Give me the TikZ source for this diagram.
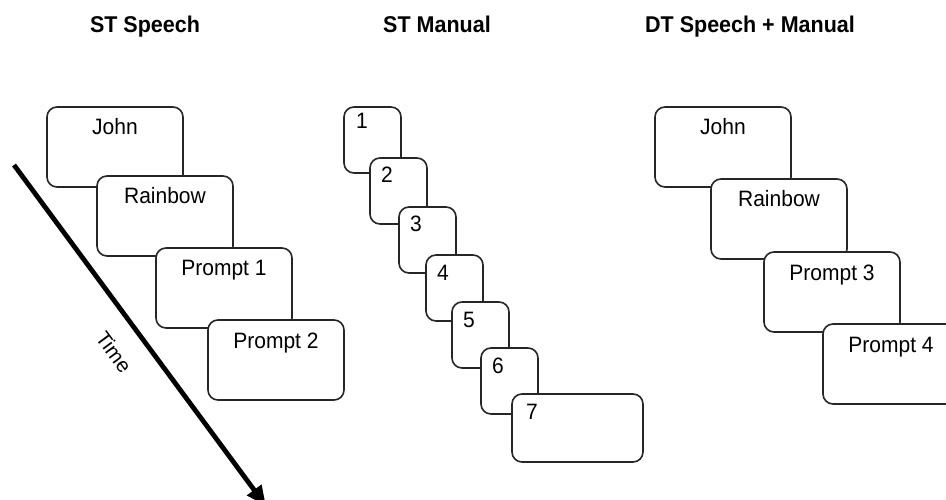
\documentclass[tikz,border=0pt]{standalone}
\usepackage{fontspec}
\setmainfont{Liberation Sans}
\usetikzlibrary{arrows.meta}
\tikzset{
  card/.style={draw=black!85, line width=1.6pt, fill=white, rounded corners=10pt,
    inner sep=0pt, outer sep=0pt, anchor=north west},
  bigcard/.style={card, minimum width=136pt, minimum height=80pt},
  smallcard/.style={card, minimum width=57pt, minimum height=66pt},
  cardtext/.style={font=\fontsize{21}{25}\selectfont, inner sep=0pt, anchor=base, yscale=1.06},
  numtext/.style={font=\fontsize{21}{25}\selectfont, inner sep=0pt, anchor=base west, yscale=1.06},
  title/.style={font=\bfseries\fontsize{21.5}{26}\selectfont, inner sep=0pt, anchor=base, yscale=1.06},
  timearrow/.style={line width=4.8pt, -{Triangle[length=20pt,width=17pt]}}
}
\begin{document}
\begin{tikzpicture}[x=1pt,y=-1pt]
\useasboundingbox (0,0) rectangle (946,500);
% titles
\node[title] (t1) at (145,33) {ST Speech};
\node[title] (t2) at (437,33) {ST Manual};
\node[title] (t3) at (750,33) {DT Speech + Manual};
% left column
\node[bigcard] (a1) at (47,107) {};
\node[cardtext] (a1t) at (115,135) {John};
\node[bigcard] (a2) at (97,176) {};
\node[cardtext] (a2t) at (165,204) {Rainbow};
\node[bigcard] (a3) at (156,248) {};
\node[cardtext] (a3t) at (224,276) {Prompt 1};
\node[bigcard] (a4) at (208,320) {};
\node[cardtext] (a4t) at (276,348) {Prompt 2};
% middle column
\node[smallcard] (b1) at (344,107) {};
\node[numtext] (b1t) at (356,129) {1};
\node[smallcard] (b2) at (370,158) {};
\node[numtext] (b2t) at (381,183) {2};
\node[smallcard] (b3) at (399,207) {};
\node[numtext] (b3t) at (410,232) {3};
\node[smallcard] (b4) at (426,255) {};
\node[numtext] (b4t) at (437,280) {4};
\node[smallcard] (b5) at (452,302) {};
\node[numtext] (b5t) at (463,327) {5};
\node[smallcard] (b6) at (481,348) {};
\node[numtext] (b6t) at (492,373) {6};
\node[card, minimum width=131pt, minimum height=68pt] (b7) at (512,394) {};
\node[numtext] (b7t) at (526,419) {7};
% right column
\node[bigcard] (c1) at (655,107) {};
\node[cardtext] (c1t) at (723,135) {John};
\node[bigcard] (c2) at (711,179) {};
\node[cardtext] (c2t) at (779,207) {Rainbow};
\node[bigcard] (c3) at (764,252) {};
\node[cardtext] (c3t) at (832,280) {Prompt 3};
\node[bigcard] (c4) at (823,324) {};
\node[cardtext] (c4t) at (891,352) {Prompt 4};
% time arrow
\coordinate (ts) at (14,165);
\coordinate (te) at (266,506);
\draw[timearrow] (ts) -- (te);
\node[font=\fontsize{20.5}{24}\selectfont, rotate=-53.6, inner sep=0pt] (time) at (114,352) {Time};
\end{tikzpicture}
\end{document}
